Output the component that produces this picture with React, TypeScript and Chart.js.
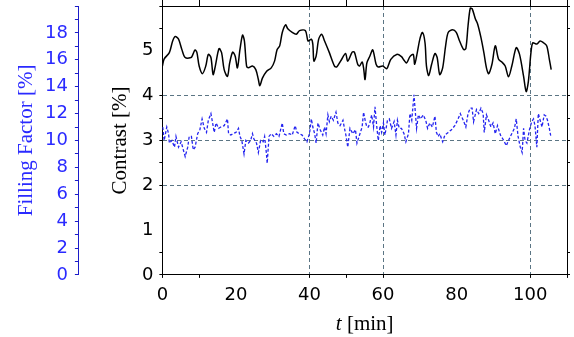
import React, { useEffect, useRef } from "react";
import { Chart, registerables } from "chart.js";

Chart.register(...registerables);

// ---- data ----
const contrastTimes = [
  0.0, 0.5, 1.9, 2.8, 3.5, 4.4, 5.3, 6.2, 7.8, 8.2, 8.9, 9.4, 10.0, 10.9, 11.8, 12.5, 13.2, 13.8, 14.4, 15.4,
  16.1, 16.8, 17.7, 18.3, 19.1, 19.8, 20.4, 21.1, 21.8, 22.3, 22.9, 23.4, 24.5, 25.4, 26.1, 26.5, 27.2, 28.3,
  29.6, 30.5, 31.2, 31.9, 32.6, 33.5, 34.1, 35.3, 36.4, 37.3, 38.9, 39.6, 40.5, 40.9, 41.2, 41.8, 42.5, 43.3,
  44.1, 45.4, 46.8, 47.4, 48.6, 49.8, 50.4, 51.6, 52.2, 53.1, 53.6, 54.3, 54.7, 55.1, 55.6, 56.4, 57.2, 58.1,
  58.7, 59.9, 61.0, 62.1, 63.7, 65.0, 65.7, 66.4, 67.3, 68.2, 68.6, 69.3, 70.0, 70.7, 71.4, 71.8, 72.4, 73.2,
  74.1, 74.7, 75.4, 76.2, 77.0, 77.7, 78.9, 79.9, 80.8, 81.9, 82.5, 83.1, 83.7, 84.2, 85.1, 85.7, 86.6, 87.4,
  88.1, 88.7, 89.6, 90.5, 91.4, 92.3, 93.2, 94.1, 95.0, 96.2, 97.1, 98.2, 98.9, 99.5, 100.2, 100.7, 101.8,
  102.7, 103.6, 104.5, 105.2, 105.7,
];
const contrastValues = [
  4.66, 4.82, 4.96, 5.22, 5.32, 5.26, 5.03, 4.85, 4.85, 4.9, 5.02, 4.96, 4.66, 4.49, 4.66, 4.92, 4.85, 4.47, 4.66, 5.05,
  4.96, 4.58, 4.43, 4.73, 4.97, 4.88, 4.62, 5.03, 5.35, 5.22, 4.66, 4.62, 4.66, 4.58, 4.36, 4.22, 4.39, 4.54,
  4.62, 4.77, 5.03, 5.11, 5.41, 5.58, 5.49, 5.41, 5.37, 5.45, 5.45, 5.22, 5.26, 5.15, 4.77, 4.88, 5.26, 5.37,
  5.22, 4.96, 4.66, 4.64, 4.79, 4.94, 4.77, 4.97, 4.97, 4.7, 4.66, 4.75, 4.62, 4.36, 4.73, 4.88, 5.02, 4.7,
  4.64, 4.66, 4.6, 4.81, 4.92, 4.87, 4.79, 4.73, 4.87, 4.92, 4.7, 4.96, 5.26, 5.41, 5.18, 4.66, 4.45, 4.7,
  4.94, 4.85, 4.47, 4.62, 5.11, 5.41, 5.47, 5.41, 5.22, 5.03, 5.05, 5.56, 5.95, 5.94, 5.71, 5.6, 5.3, 4.96,
  4.62, 4.49, 4.7, 5.11, 4.81, 4.75, 4.66, 4.42, 4.66, 5.07, 4.92, 4.43, 4.09, 4.32, 4.96, 5.18, 5.15,
  5.22, 5.18, 5.11, 4.81, 4.58,
];
const fillTimes = [
  0.1, 0.5, 1.2, 1.7, 1.9, 2.6, 3.3, 3.7, 4.4, 5.1, 5.7, 6.2, 6.9, 7.3, 7.9, 8.4, 8.9, 9.6, 10.2, 10.8,
  11.4, 12.0, 12.5, 13.2, 13.6, 14.1, 14.6, 15.3, 15.9, 16.8, 17.7, 18.0, 18.6, 19.2, 20.0, 20.7, 21.1, 21.6,
  22.2, 22.7, 23.4, 24.0, 24.5, 24.9, 25.6, 26.1, 26.7, 27.4, 27.8, 28.3, 28.5, 29.0, 29.6, 30.3, 31.0, 31.7,
  32.6, 33.0, 33.7, 34.6, 35.3, 36.1, 36.6, 37.3, 38.0, 38.7, 39.3, 40.0, 40.5, 40.9, 41.4, 41.8, 42.3, 42.9,
  43.6, 44.1, 44.5, 45.0, 45.4, 45.9, 46.5, 47.2, 47.7, 48.3, 49.1, 49.5, 49.9, 50.4, 51.0, 51.8, 52.5, 52.9,
  53.6, 54.3, 54.7, 55.2, 55.6, 56.0, 56.4, 56.9, 57.4, 57.8, 58.3, 58.7, 59.2, 59.6, 60.1, 60.5, 61.2, 61.7,
  62.3, 63.0, 63.5, 63.9, 64.4, 65.0, 65.7, 66.2, 66.9, 67.3, 67.8, 68.4, 68.8, 69.1, 69.6, 70.2, 70.9, 71.6,
  72.1, 72.7, 73.4, 74.1, 74.5, 75.0, 75.4, 76.2, 76.8, 77.7, 78.6, 79.5, 80.4, 81.0, 81.8, 82.5, 83.1, 83.7,
  84.2, 84.6, 85.4, 86.0, 86.6, 87.2, 87.5, 88.1, 88.7, 89.3, 89.9, 90.5, 91.1, 91.9, 92.8, 93.5, 94.1, 94.8,
  95.7, 96.2, 96.7, 97.3, 97.8, 98.2, 98.6, 99.1, 99.8, 100.4, 100.9, 101.3, 101.8, 102.2, 102.7, 103.2,
  103.8, 104.3, 104.7, 105.2, 105.6,
];
const fillValues = [
  11.0, 10.0, 11.0, 10.5, 9.8, 10.0, 9.5, 10.3, 9.5, 9.9, 9.3, 8.8, 9.5, 10.3, 10.3, 9.3, 9.5, 10.5, 10.8, 11.6,
  10.9, 10.6, 11.5, 12.0, 11.4, 10.6, 11.3, 10.9, 11.0, 11.1, 11.6, 10.5, 10.4, 10.5, 10.6, 10.9, 10.3, 10.0,
  9.0, 10.0, 9.8, 10.0, 10.5, 10.1, 9.8, 9.1, 10.0, 9.9, 10.3, 9.0, 8.3, 10.3, 10.5, 10.3, 10.5, 10.3,
  11.3, 10.5, 10.4, 10.5, 10.4, 11.1, 10.6, 10.5, 10.4, 10.1, 9.9, 10.5, 11.6, 11.0, 10.5, 9.8, 11.3, 10.8,
  10.4, 11.0, 10.5, 11.9, 11.4, 11.8, 11.5, 12.1, 11.3, 11.1, 11.5, 10.9, 10.4, 9.5, 10.9, 10.5, 10.8, 9.8,
  10.4, 11.0, 12.1, 11.4, 11.0, 11.0, 11.3, 11.9, 11.0, 12.5, 11.0, 10.0, 11.1, 10.6, 11.3, 10.4, 11.5, 11.6,
  10.9, 11.4, 10.4, 11.5, 10.9, 10.9, 10.5, 9.9, 10.5, 12.0, 11.5, 13.4, 12.0, 10.9, 11.9, 11.6, 11.9, 11.5,
  10.9, 11.3, 11.0, 11.8, 10.6, 10.3, 10.5, 9.9, 10.4, 10.6, 10.8, 11.1, 11.6, 12.0, 11.5, 11.0, 12.0, 12.4,
  12.4, 11.4, 12.3, 12.0, 12.4, 12.0, 10.6, 11.9, 11.5, 11.0, 11.3, 10.5, 11.1, 10.4, 10.0, 9.6, 10.0, 10.4,
  10.9, 11.6, 10.3, 9.5, 9.1, 10.9, 10.0, 9.8, 10.8, 11.4, 11.6, 11.1, 9.5, 12.0, 11.5, 11.0,
  11.9, 11.8, 11.5, 10.9, 10.3,
];

const timeTickLabels = [0, 20, 40, 60, 80, 100];
const contrastTickLabels = [0, 1, 2, 3, 4, 5];
const fillTickLabels = [0, 2, 4, 6, 8, 10, 12, 14, 16, 18];
const timeGridAt = [40, 60, 100];
const timeTickMarksAt = [0, 10, 40, 50, 60, 100, 110];
const contrastGridAt = [0, 2, 3, 4];
const contrastTickMarksAt = [0, 0.5, 2, 2.5, 3, 3.5, 4, 5.5, 6];

// ---- styles ----
const GRID = "#5b7584";
const BLUE = "#2a2aff";
const AXIS_BLUE = "#1c1cc8";
const LINE_BLUE = "#2424f0";
const tickFont = { family: "DejaVu Sans", size: 18 };
const titleFont = { family: "Liberation Serif", size: 21, lineHeight: 1 };

const has = (arr: number[], v: any) => typeof v === "number" && arr.some((a) => Math.abs(a - v) < 1e-6);
const noVerticalPadding = (scale: any) => {
  scale.paddingTop = 0;
  scale.paddingBottom = 0;
};

const xTitlePlugin = {
  id: "xTitleItalic",
  afterDraw(chart: any) {
    const s = chart.scales.x;
    const ctx = chart.ctx;
    const y = s.bottom - 10.5 - 0.5;
    const cx = (chart.chartArea.left + chart.chartArea.right) / 2;
    ctx.save();
    ctx.fillStyle = "#000";
    ctx.textBaseline = "middle";
    ctx.textAlign = "left";
    const italic = 'italic 21px "Liberation Serif"';
    const normal = '21px "Liberation Serif"';
    ctx.font = italic;
    const w1 = ctx.measureText("t").width;
    ctx.font = normal;
    const w2 = ctx.measureText(" [min]").width;
    const x = cx - (w1 + w2) / 2;
    ctx.font = italic;
    ctx.fillText("t", x, y);
    ctx.font = normal;
    ctx.fillText(" [min]", x + w1, y);
    ctx.restore();
  },
};

export default function App() {
  const ref = useRef<HTMLCanvasElement | null>(null);

  useEffect(() => {
    if (!ref.current) return;
    const chart = new Chart(ref.current, {
      type: "line",
      data: {
        datasets: [
          {
            label: "Contrast",
            data: contrastTimes.map((t, i) => ({ x: t, y: contrastValues[i] })),
            xAxisID: "x",
            yAxisID: "y",
            borderColor: "#000",
            borderWidth: 1.5,
            pointRadius: 0,
            tension: 0.3,
            fill: false,
          },
          {
            label: "Filling Factor",
            data: fillTimes.map((t, i) => ({ x: t, y: fillValues[i] })),
            xAxisID: "x",
            yAxisID: "yff",
            borderColor: LINE_BLUE,
            borderWidth: 1.3,
            borderDash: [3, 2],
            pointRadius: 0,
            tension: 0,
            fill: false,
          },
        ],
      },
      options: {
        responsive: false,
        animation: false,
        events: [],
        layout: { padding: { left: 0, right: 4, top: 0, bottom: 2 } },
        plugins: { legend: { display: false }, tooltip: { enabled: false } },
        scales: {
          x: {
            type: "linear",
            position: "bottom",
            min: 0,
            max: 110,
            ticks: {
              stepSize: 10,
              autoSkip: false,
              maxRotation: 0,
              color: "#000",
              font: tickFont,
              padding: 7,
              callback: (v: any) => (has(timeTickLabels, v) ? String(v) : ""),
            },
            grid: {
              color: (c: any) => (has(timeGridAt, c.tick?.value) ? GRID : "rgba(0,0,0,0)"),
              tickColor: (c: any) => (has(timeTickMarksAt, c.tick?.value) ? "#000" : "rgba(0,0,0,0)"),
              tickLength: 3,
              tickBorderDash: [],
              lineWidth: 1,
            },
            border: { display: true, color: "#000", width: 1, dash: [4, 3] },
            title: { display: true, text: "", font: titleFont, padding: { top: 0, bottom: 0.5 } },
          },
          x2: {
            type: "linear",
            position: "top",
            min: 0,
            max: 110,
            ticks: { display: false, stepSize: 10, autoSkip: false },
            grid: {
              drawOnChartArea: false,
              tickColor: (c: any) => (has(timeTickMarksAt, c.tick?.value) ? "#000" : "rgba(0,0,0,0)"),
              tickLength: 6,
            },
            border: { display: true, color: "#000", width: 1 },
          },
          y: {
            type: "linear",
            position: "left",
            weight: 0,
            min: 0,
            max: 6,
            afterFit: noVerticalPadding,
            ticks: {
              stepSize: 0.5,
              autoSkip: false,
              color: "#000",
              font: tickFont,
              padding: 6,
              callback: (v: any) => (has(contrastTickLabels, v) ? String(v) : ""),
            },
            grid: {
              color: (c: any) => (has(contrastGridAt, c.tick?.value) ? GRID : "rgba(0,0,0,0)"),
              tickColor: (c: any) => (has(contrastTickMarksAt, c.tick?.value) ? "#000" : "rgba(0,0,0,0)"),
              tickLength: 3,
              tickBorderDash: [],
              lineWidth: 1,
            },
            border: { display: true, color: "#000", width: 1, dash: [4, 3] },
            title: {
              display: true,
              text: "Contrast [%]",
              color: "#000",
              font: titleFont,
              padding: { top: 31, bottom: 5 },
            },
          },
          yff: {
            type: "linear",
            position: "left",
            weight: 1,
            min: 0,
            max: 20,
            afterFit: noVerticalPadding,
            ticks: {
              stepSize: 1,
              autoSkip: false,
              color: BLUE,
              font: tickFont,
              padding: 7,
              callback: (v: any) => (has(fillTickLabels, v) ? String(v) : ""),
            },
            grid: {
              drawOnChartArea: false,
              color: AXIS_BLUE,
              tickColor: AXIS_BLUE,
              tickLength: 4,
            },
            border: { display: true, color: AXIS_BLUE, width: 1 },
            title: {
              display: true,
              text: "Filling Factor [%]",
              color: BLUE,
              font: titleFont,
              padding: { top: 16, bottom: 1 },
            },
          },
          y2: {
            type: "linear",
            position: "right",
            min: 0,
            max: 6,
            afterFit: noVerticalPadding,
            ticks: { display: false, stepSize: 0.5, autoSkip: false },
            grid: {
              drawOnChartArea: false,
              tickColor: (c: any) => (has(contrastTickMarksAt, c.tick?.value) ? "#000" : "rgba(0,0,0,0)"),
              tickLength: 3,
            },
            border: { display: true, color: "#000", width: 1 },
          },
        },
      } as any,
      plugins: [xTitlePlugin],
    });
    return () => chart.destroy();
  }, []);

  return (
    <div style={{ position: "fixed", left: 0, top: 0, width: 574, height: 337, background: "#fff" }}>
      <canvas ref={ref} width={574} height={337} style={{ display: "block", width: 574, height: 337 }} />
    </div>
  );
}
